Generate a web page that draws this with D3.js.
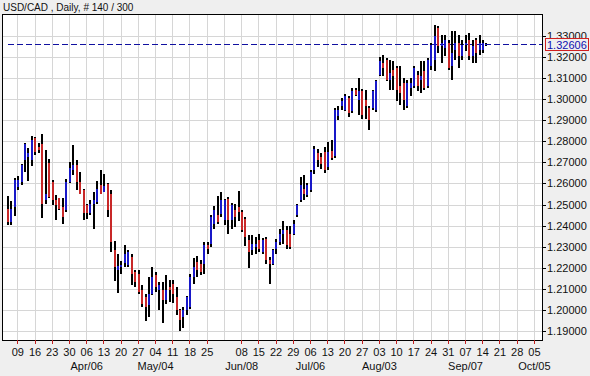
<!DOCTYPE html>
<html><head><meta charset="utf-8">
<script src="https://cdn.jsdelivr.net/npm/d3@7"></script>
<style>
html,body{margin:0;padding:0;background:#efefef;}
svg{display:block;font-family:"Liberation Sans",Arial,sans-serif;}
</style></head>
<body>
<svg id="c" width="590" height="376"></svg>
<script>
// ---- data (USD/CAD daily, 140 bars starting Wed 2015-03-04) ----
const startDate = "2015-03-04";
const opens = [1.2481,1.2418,1.2489,1.2584,1.2608,1.2710,1.2726,1.2710,1.2813,1.2774,
1.2789,1.2521,1.2695,1.2608,1.2521,1.2529,1.2489,1.2473,1.2608,1.2663,
1.2687,1.2608,1.2568,1.2497,1.2458,1.2505,1.2513,1.2592,1.2560,1.2597,
1.2552,1.2284,1.2190,1.2205,1.2221,1.2213,1.2252,1.2181,1.2173,1.2094,
1.2063,1.2023,1.2078,1.2166,1.2094,1.2094,1.2047,1.2110,1.2125,1.2062,
1.1999,1.1967,1.1999,1.2015,1.2157,1.2228,1.2220,1.2220,1.2307,1.2315,
1.2410,1.2449,1.2457,1.2425,1.2528,1.2425,1.2473,1.2489,1.2465,1.2433,
1.2331,1.2283,1.2299,1.2331,1.2275,1.2339,1.2236,1.2220,1.2291,1.2323,
1.2362,1.2378,1.2362,1.2362,1.2449,1.2520,1.2575,1.2544,1.2568,1.2662,
1.2742,1.2726,1.2749,1.2678,1.2752,1.2728,1.2918,1.2965,1.2949,1.3005,
1.2941,1.3044,1.2997,1.3036,1.2997,1.2957,1.2957,1.2949,1.3115,1.3170,
1.3186,1.3091,1.3139,1.3147,1.3060,1.3076,1.2965,1.3052,1.3060,1.3115,
1.3091,1.3131,1.3060,1.3155,1.3186,1.3336,1.3249,1.3241,1.3265,1.3155,
1.3234,1.3265,1.3202,1.3257,1.3281,1.3202,1.3281,1.3234,1.3234,1.3257];
const highs = [1.2540,1.2518,1.2627,1.2635,1.2691,1.2794,1.2766,1.2824,1.2821,1.2794,
1.2832,1.2758,1.2718,1.2616,1.2545,1.2533,1.2529,1.2620,1.2702,1.2781,
1.2710,1.2655,1.2573,1.2505,1.2521,1.2560,1.2612,1.2666,1.2644,1.2603,
1.2568,1.2327,1.2268,1.2233,1.2307,1.2287,1.2268,1.2189,1.2192,1.2118,
1.2078,1.2157,1.2205,1.2181,1.2134,1.2134,1.2165,1.2144,1.2144,1.2110,
1.2007,1.2015,1.2065,1.2170,1.2249,1.2255,1.2239,1.2323,1.2323,1.2449,
1.2492,1.2539,1.2560,1.2528,1.2536,1.2508,1.2505,1.2565,1.2473,1.2441,
1.2354,1.2354,1.2346,1.2359,1.2343,1.2346,1.2252,1.2291,1.2339,1.2386,
1.2422,1.2397,1.2397,1.2425,1.2501,1.2631,1.2639,1.2603,1.2663,1.2776,
1.2765,1.2742,1.2773,1.2797,1.2807,1.2957,1.2968,1.3005,1.3025,1.3012,
1.3052,1.3052,1.3099,1.3047,1.3044,1.2968,1.3044,1.3091,1.3199,1.3210,
1.3194,1.3183,1.3178,1.3155,1.3155,1.3099,1.3091,1.3099,1.3155,1.3131,
1.3178,1.3178,1.3194,1.3265,1.3352,1.3344,1.3305,1.3305,1.3281,1.3321,
1.3321,1.3305,1.3281,1.3305,1.3313,1.3281,1.3289,1.3305,1.3281,1.3265];
const lows = [1.2402,1.2402,1.2445,1.2568,1.2592,1.2655,1.2612,1.2684,1.2734,1.2745,
1.2437,1.2505,1.2529,1.2497,1.2426,1.2473,1.2410,1.2466,1.2600,1.2639,
1.2568,1.2549,1.2426,1.2432,1.2450,1.2386,1.2505,1.2552,1.2560,1.2442,
1.2276,1.2138,1.2082,1.2173,1.2205,1.2202,1.2118,1.2110,1.2078,1.2015,
1.1949,1.1968,1.2071,1.2086,1.1999,1.1939,1.2031,1.2038,1.2034,1.1975,
1.1901,1.1917,1.1975,1.2007,1.2125,1.2157,1.2165,1.2173,1.2267,1.2299,
1.2386,1.2410,1.2441,1.2402,1.2362,1.2386,1.2394,1.2422,1.2370,1.2302,
1.2200,1.2260,1.2267,1.2275,1.2267,1.2217,1.2122,1.2212,1.2267,1.2307,
1.2315,1.2291,1.2291,1.2355,1.2441,1.2512,1.2520,1.2536,1.2560,1.2646,
1.2678,1.2670,1.2650,1.2662,1.2712,1.2720,1.2902,1.2949,1.2941,1.2914,
1.2933,1.3012,1.2926,1.2905,1.2905,1.2854,1.2949,1.2937,1.3107,1.3107,
1.3084,1.3041,1.3044,1.2989,1.2973,1.2949,1.2957,1.3012,1.3052,1.3036,
1.3028,1.3044,1.3052,1.3139,1.3131,1.3218,1.3170,1.3202,1.3139,1.3091,
1.3186,1.3147,1.3186,1.3226,1.3186,1.3170,1.3170,1.3210,1.3218,1.3249];
const closes = [1.2418,1.2481,1.2616,1.2616,1.2687,1.2789,1.2742,1.2805,1.2750,1.2758,
1.2505,1.2552,1.2537,1.2521,1.2497,1.2481,1.2442,1.2608,1.2671,1.2687,
1.2608,1.2552,1.2458,1.2458,1.2505,1.2521,1.2576,1.2552,1.2587,1.2473,
1.2323,1.2205,1.2210,1.2213,1.2268,1.2276,1.2173,1.2134,1.2086,1.2031,
1.2015,1.2078,1.2157,1.2110,1.2118,1.2047,1.2094,1.2094,1.2078,1.1999,
1.1952,1.1999,1.2062,1.2157,1.2204,1.2189,1.2181,1.2307,1.2291,1.2441,
1.2473,1.2418,1.2520,1.2520,1.2425,1.2497,1.2441,1.2465,1.2378,1.2346,
1.2275,1.2315,1.2315,1.2291,1.2331,1.2236,1.2220,1.2286,1.2323,1.2362,
1.2378,1.2307,1.2299,1.2410,1.2497,1.2591,1.2552,1.2591,1.2655,1.2765,
1.2710,1.2694,1.2662,1.2749,1.2720,1.2949,1.2949,1.2989,1.3012,1.2933,
1.3036,1.3020,1.3036,1.2925,1.2965,1.2902,1.3036,1.3084,1.3178,1.3147,
1.3091,1.3123,1.3107,1.3044,1.3028,1.2997,1.3076,1.3076,1.3147,1.3060,
1.3107,1.3052,1.3186,1.3257,1.3297,1.3249,1.3265,1.3281,1.3147,1.3218,
1.3265,1.3202,1.3257,1.3265,1.3202,1.3249,1.3218,1.3265,1.3265,1.32606];
const lastPrice = 1.32606;
const yTicks = [1.19,1.20,1.21,1.22,1.23,1.24,1.25,1.26,1.27,1.28,1.29,1.30,1.31,1.32,1.33];
const weekDayLabels = ["09","16","23","30","06","13","20","27","04","11","18","25","","08","15","22","29","06","13","20","27","03","10","17","24","31","07","14","21","28","05"];
const monthLabels = ["Apr/06","May/04","Jun/08","Jul/06","Aug/03","Sep/07","Oct/05"];
const monthLabelWeeks = [4,8,13,17,21,26,30];
const titleText = "USD/CAD , Daily, # 140 / 300";

// ---- layout ----
const W = 590, H = 376;
const plot = {l:2, t:14, r:542, b:340};
const svg = d3.select("#c");
svg.append("rect").attr("width",W).attr("height",H).attr("fill","#efefef");
svg.append("rect").attr("x",plot.l).attr("y",plot.t).attr("width",plot.r-plot.l).attr("height",plot.b-plot.t).attr("fill","#fff");

// x: trading-day index (0 = Wed 2015-03-04, 3 = Mon 2015-03-09)
const x = d3.scaleLinear().domain([3, 153]).range([17.3, 17.3 + 150*3.444]);
const y = d3.scaleLinear().domain([1.19, 1.33]).range([331.2, 35.7]);
const bars = opens.map((o,i)=>({i, o, h:highs[i], l:lows[i], c:closes[i]}));
const weeks = d3.range(weekDayLabels.length);
const wx = w => Math.round(x(3 + 5*w)) + 0.5;

const grid = svg.append("g").attr("stroke","#d6d6d6").attr("stroke-width",1).attr("shape-rendering","crispEdges");
grid.selectAll("line.v").data(weeks).join("line").attr("class","v")
  .attr("x1",wx).attr("x2",wx).attr("y1",plot.t).attr("y2",plot.b);
grid.selectAll("line.h").data(yTicks).join("line").attr("class","h")
  .attr("x1",plot.l).attr("x2",plot.r).attr("y1",d=>Math.round(y(d))+0.5).attr("y2",d=>Math.round(y(d))+0.5);

// last price dashed line
svg.append("line").attr("x1",x(0)+0.8).attr("x2",plot.r).attr("y1",Math.round(y(lastPrice))+0.5).attr("y2",Math.round(y(lastPrice))+0.5)
  .attr("stroke","#1010a0").attr("stroke-width",1).attr("stroke-dasharray","6,3").attr("shape-rendering","crispEdges");

// bars
const bx = d => Math.round(x(d.i) + 0.8) - 1;
const g = svg.append("g").attr("shape-rendering","crispEdges");
g.selectAll("rect.hl").data(bars).join("rect").attr("class","hl")
  .attr("x",bx).attr("width",2)
  .attr("y",d=>Math.round(y(d.h))).attr("height",d=>Math.max(1,Math.round(y(d.l))-Math.round(y(d.h))))
  .attr("fill","#000");
g.selectAll("rect.oc").data(bars).join("rect").attr("class","oc")
  .attr("x",bx).attr("width",2)
  .attr("y",d=>Math.round(y(Math.max(d.o,d.c)))).attr("height",d=>Math.max(1,Math.abs(Math.round(y(d.o))-Math.round(y(d.c)))))
  .attr("fill",d=>d.c>=d.o?"#1818c8":"#c82828");

// frame
svg.append("rect").attr("x",plot.l+0.5).attr("y",plot.t+0.5).attr("width",plot.r-plot.l).attr("height",plot.b-plot.t)
  .attr("fill","none").attr("stroke","#000").attr("shape-rendering","crispEdges");

// right axis
const ra = svg.append("g");
ra.selectAll("line").data(yTicks).join("line")
  .attr("x1",plot.r).attr("x2",plot.r+4).attr("y1",d=>Math.round(y(d))+0.5).attr("y2",d=>Math.round(y(d))+0.5)
  .attr("stroke","#000").attr("shape-rendering","crispEdges");
ra.selectAll("text").data(yTicks).join("text")
  .attr("x",plot.r+5).attr("y",d=>Math.round(y(d))+4).attr("font-size",11).attr("fill","#111")
  .text(d=>d.toFixed(5));

// last price box (drawn over the axis, as in the original)
const ly = Math.round(y(lastPrice));
svg.append("rect").attr("x",545.5).attr("y",ly-5.5).attr("width",43).attr("height",12)
  .attr("fill","#efefef").attr("stroke","#d02020").attr("shape-rendering","crispEdges");
svg.append("text").attr("x",547).attr("y",ly+5).attr("font-size",11).attr("fill","#1010b0").text(lastPrice.toFixed(5));

// bottom axis
const ba = svg.append("g");
ba.selectAll("line").data(weeks.filter(w=>weekDayLabels[w]!=="")).join("line")
  .attr("x1",wx).attr("x2",wx).attr("y1",plot.b).attr("y2",plot.b+4)
  .attr("stroke","#c02020").attr("shape-rendering","crispEdges");
ba.selectAll("text.d").data(weeks).join("text").attr("class","d")
  .attr("x",w=>x(3+5*w)+0.5).attr("y",356).attr("text-anchor","middle").attr("font-size",11).attr("fill","#111")
  .text(w=>weekDayLabels[w]);
ba.selectAll("text.m").data(monthLabels).join("text").attr("class","m")
  .attr("x",(d,i)=>x(3+5*monthLabelWeeks[i])+0.5).attr("y",370).attr("text-anchor","middle").attr("font-size",11).attr("fill","#111")
  .text(d=>d);

// title
svg.append("text").attr("x",3).attr("y",11).attr("font-size",10).attr("fill","#111").text(titleText);
</script>
</body></html>
